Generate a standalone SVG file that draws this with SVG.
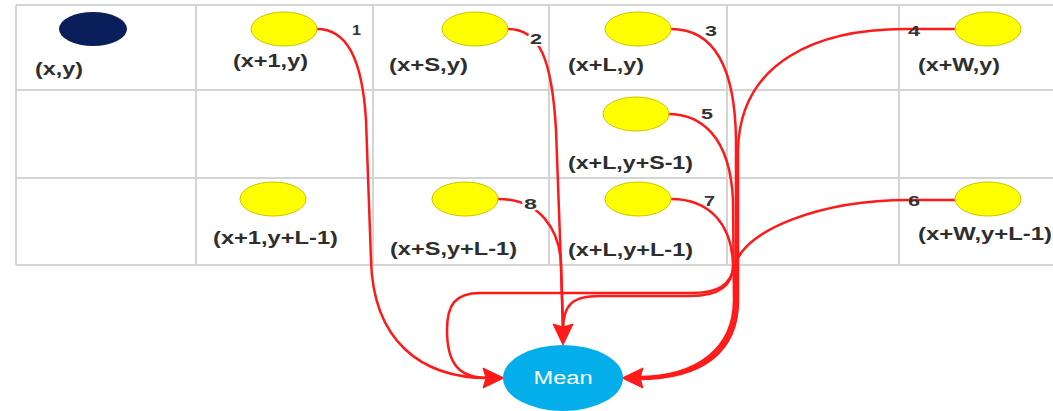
<svg xmlns="http://www.w3.org/2000/svg" width="1053" height="411" viewBox="0 0 1053 411">
<style>
.grid{stroke:#d4d4d4;stroke-width:2;fill:none}
.yel{fill:#ffff00;stroke:#c9c400;stroke-width:1}
.lbl{font-family:"Liberation Sans",Arial,sans-serif;font-weight:bold;font-size:17.5px;fill:#2e2e2e}
.num{font-family:"Liberation Sans",Arial,sans-serif;font-weight:bold;font-size:15px;fill:#333}
.halo{stroke:#fff;stroke-width:4;paint-order:stroke}
.edge{fill:none;stroke:#ff1a1a;stroke-width:2.5}
</style>
<defs>
<path id="arrow" d="M0,0 L-21,-10 L-18,0 L-21,10 z" fill="#ff1a1a" stroke="#ff1a1a" stroke-width="1" stroke-linejoin="round"/>
</defs>
<rect width="1053" height="411" fill="#fff"/>
<g id="grid">
<path class="grid" d="M16,5 H1053 M16,90 H1053 M16,178 H1053 M16,265 H1053 M16,5 V265 M196,5 V265 M373,5 V265 M549,5 V265 M727,5 V265 M899,5 V265"/>
</g>
<g id="connectors">
<path class="edge" d="M317,29 C345,29 362,55 366,120 L371,260 C373,340 420,378 488,378"/>
<path class="edge" d="M508,29 C540,29 552,60 556,130 L561,265 L563,330"/>
<path class="edge" d="M498,199 C540,199 560,230 561,265 L563,330"/>
<path class="edge" d="M671,29 C710,29 735,60 736,140 L736,300 C736,350 700,378 638,378"/>
<path class="edge" d="M955,29 L905,29 C820,29 740,60 738,150 L738,300 C738,352 702,379 638,379"/>
<path class="edge" d="M668,114 C700,114 730,135 733,200 L734,300 C734,348 698,377 638,377"/>
<path class="edge" d="M955,200 L909,200 C820,200 745,230 735,265 C730,285 720,293 690,293 L480,293 C455,293 447,305 447,330 C447,365 460,378 488,378"/>
<path class="edge" d="M671,199 C710,199 732,225 733,265 C733,285 720,296 690,296 L600,296 C572,296 563,305 563,330"/>
<use href="#arrow" transform="translate(504,378)"/>
<use href="#arrow" transform="translate(563,345) rotate(90)"/>
<use href="#arrow" transform="translate(622,378) rotate(180)"/>
<text class="num" x="352" y="35" textLength="9" lengthAdjust="spacingAndGlyphs">1</text>
<text class="num halo" x="530" y="44" textLength="12" lengthAdjust="spacingAndGlyphs">2</text>
<text class="num" x="705" y="36" textLength="12" lengthAdjust="spacingAndGlyphs">3</text>
<text class="num" x="908" y="36" textLength="12" lengthAdjust="spacingAndGlyphs">4</text>
<text class="num" x="701" y="119" textLength="12" lengthAdjust="spacingAndGlyphs">5</text>
<text class="num" x="908" y="206" textLength="12" lengthAdjust="spacingAndGlyphs">6</text>
<text class="num" x="704" y="206" textLength="11" lengthAdjust="spacingAndGlyphs">7</text>
<text class="num halo" x="524" y="209" textLength="13" lengthAdjust="spacingAndGlyphs">8</text>
</g>
<g id="n_xy">
<ellipse cx="93" cy="29" rx="34" ry="17" fill="#0b1e5c"/>
<text class="lbl" x="35" y="75" textLength="48" lengthAdjust="spacingAndGlyphs">(x,y)</text>
</g>
<g id="n_x1y">
<ellipse class="yel" cx="284" cy="29" rx="33" ry="17"/>
<text class="lbl" x="233" y="67" textLength="75" lengthAdjust="spacingAndGlyphs">(x+1,y)</text>
</g>
<g id="n_xSy">
<ellipse class="yel" cx="475" cy="29" rx="33" ry="17"/>
<text class="lbl" x="389" y="71" textLength="79" lengthAdjust="spacingAndGlyphs">(x+S,y)</text>
</g>
<g id="n_xLy">
<ellipse class="yel" cx="638" cy="29" rx="33" ry="17"/>
<text class="lbl" x="568" y="71" textLength="76" lengthAdjust="spacingAndGlyphs">(x+L,y)</text>
</g>
<g id="n_xWy">
<ellipse class="yel" cx="988" cy="29" rx="33" ry="17"/>
<text class="lbl" x="918" y="71" textLength="82" lengthAdjust="spacingAndGlyphs">(x+W,y)</text>
</g>
<g id="n_xLyS1">
<ellipse class="yel" cx="636" cy="114" rx="33" ry="17"/>
<text class="lbl" x="568" y="169" textLength="125" lengthAdjust="spacingAndGlyphs">(x+L,y+S-1)</text>
</g>
<g id="n_x1yL1">
<ellipse class="yel" cx="273" cy="199" rx="33" ry="17"/>
<text class="lbl" x="213" y="244" textLength="125" lengthAdjust="spacingAndGlyphs">(x+1,y+L-1)</text>
</g>
<g id="n_xSyL1">
<ellipse class="yel" cx="465" cy="199" rx="33" ry="17"/>
<text class="lbl" x="390" y="255" textLength="127" lengthAdjust="spacingAndGlyphs">(x+S,y+L-1)</text>
</g>
<g id="n_xLyL1">
<ellipse class="yel" cx="638" cy="199" rx="33" ry="17"/>
<text class="lbl" x="568" y="256" textLength="125" lengthAdjust="spacingAndGlyphs">(x+L,y+L-1)</text>
</g>
<g id="n_xWyL1">
<ellipse class="yel" cx="988" cy="199" rx="33" ry="17"/>
<text class="lbl" x="918" y="240" textLength="134" lengthAdjust="spacingAndGlyphs">(x+W,y+L-1)</text>
</g>
<g id="n_mean">
<ellipse cx="563" cy="378" rx="60" ry="33" fill="#03aeea"/>
<text x="563" y="384" text-anchor="middle" font-family="'Liberation Sans',Arial,sans-serif" font-size="18" fill="#fff" textLength="59" lengthAdjust="spacingAndGlyphs">Mean</text>
</g>
</svg>
